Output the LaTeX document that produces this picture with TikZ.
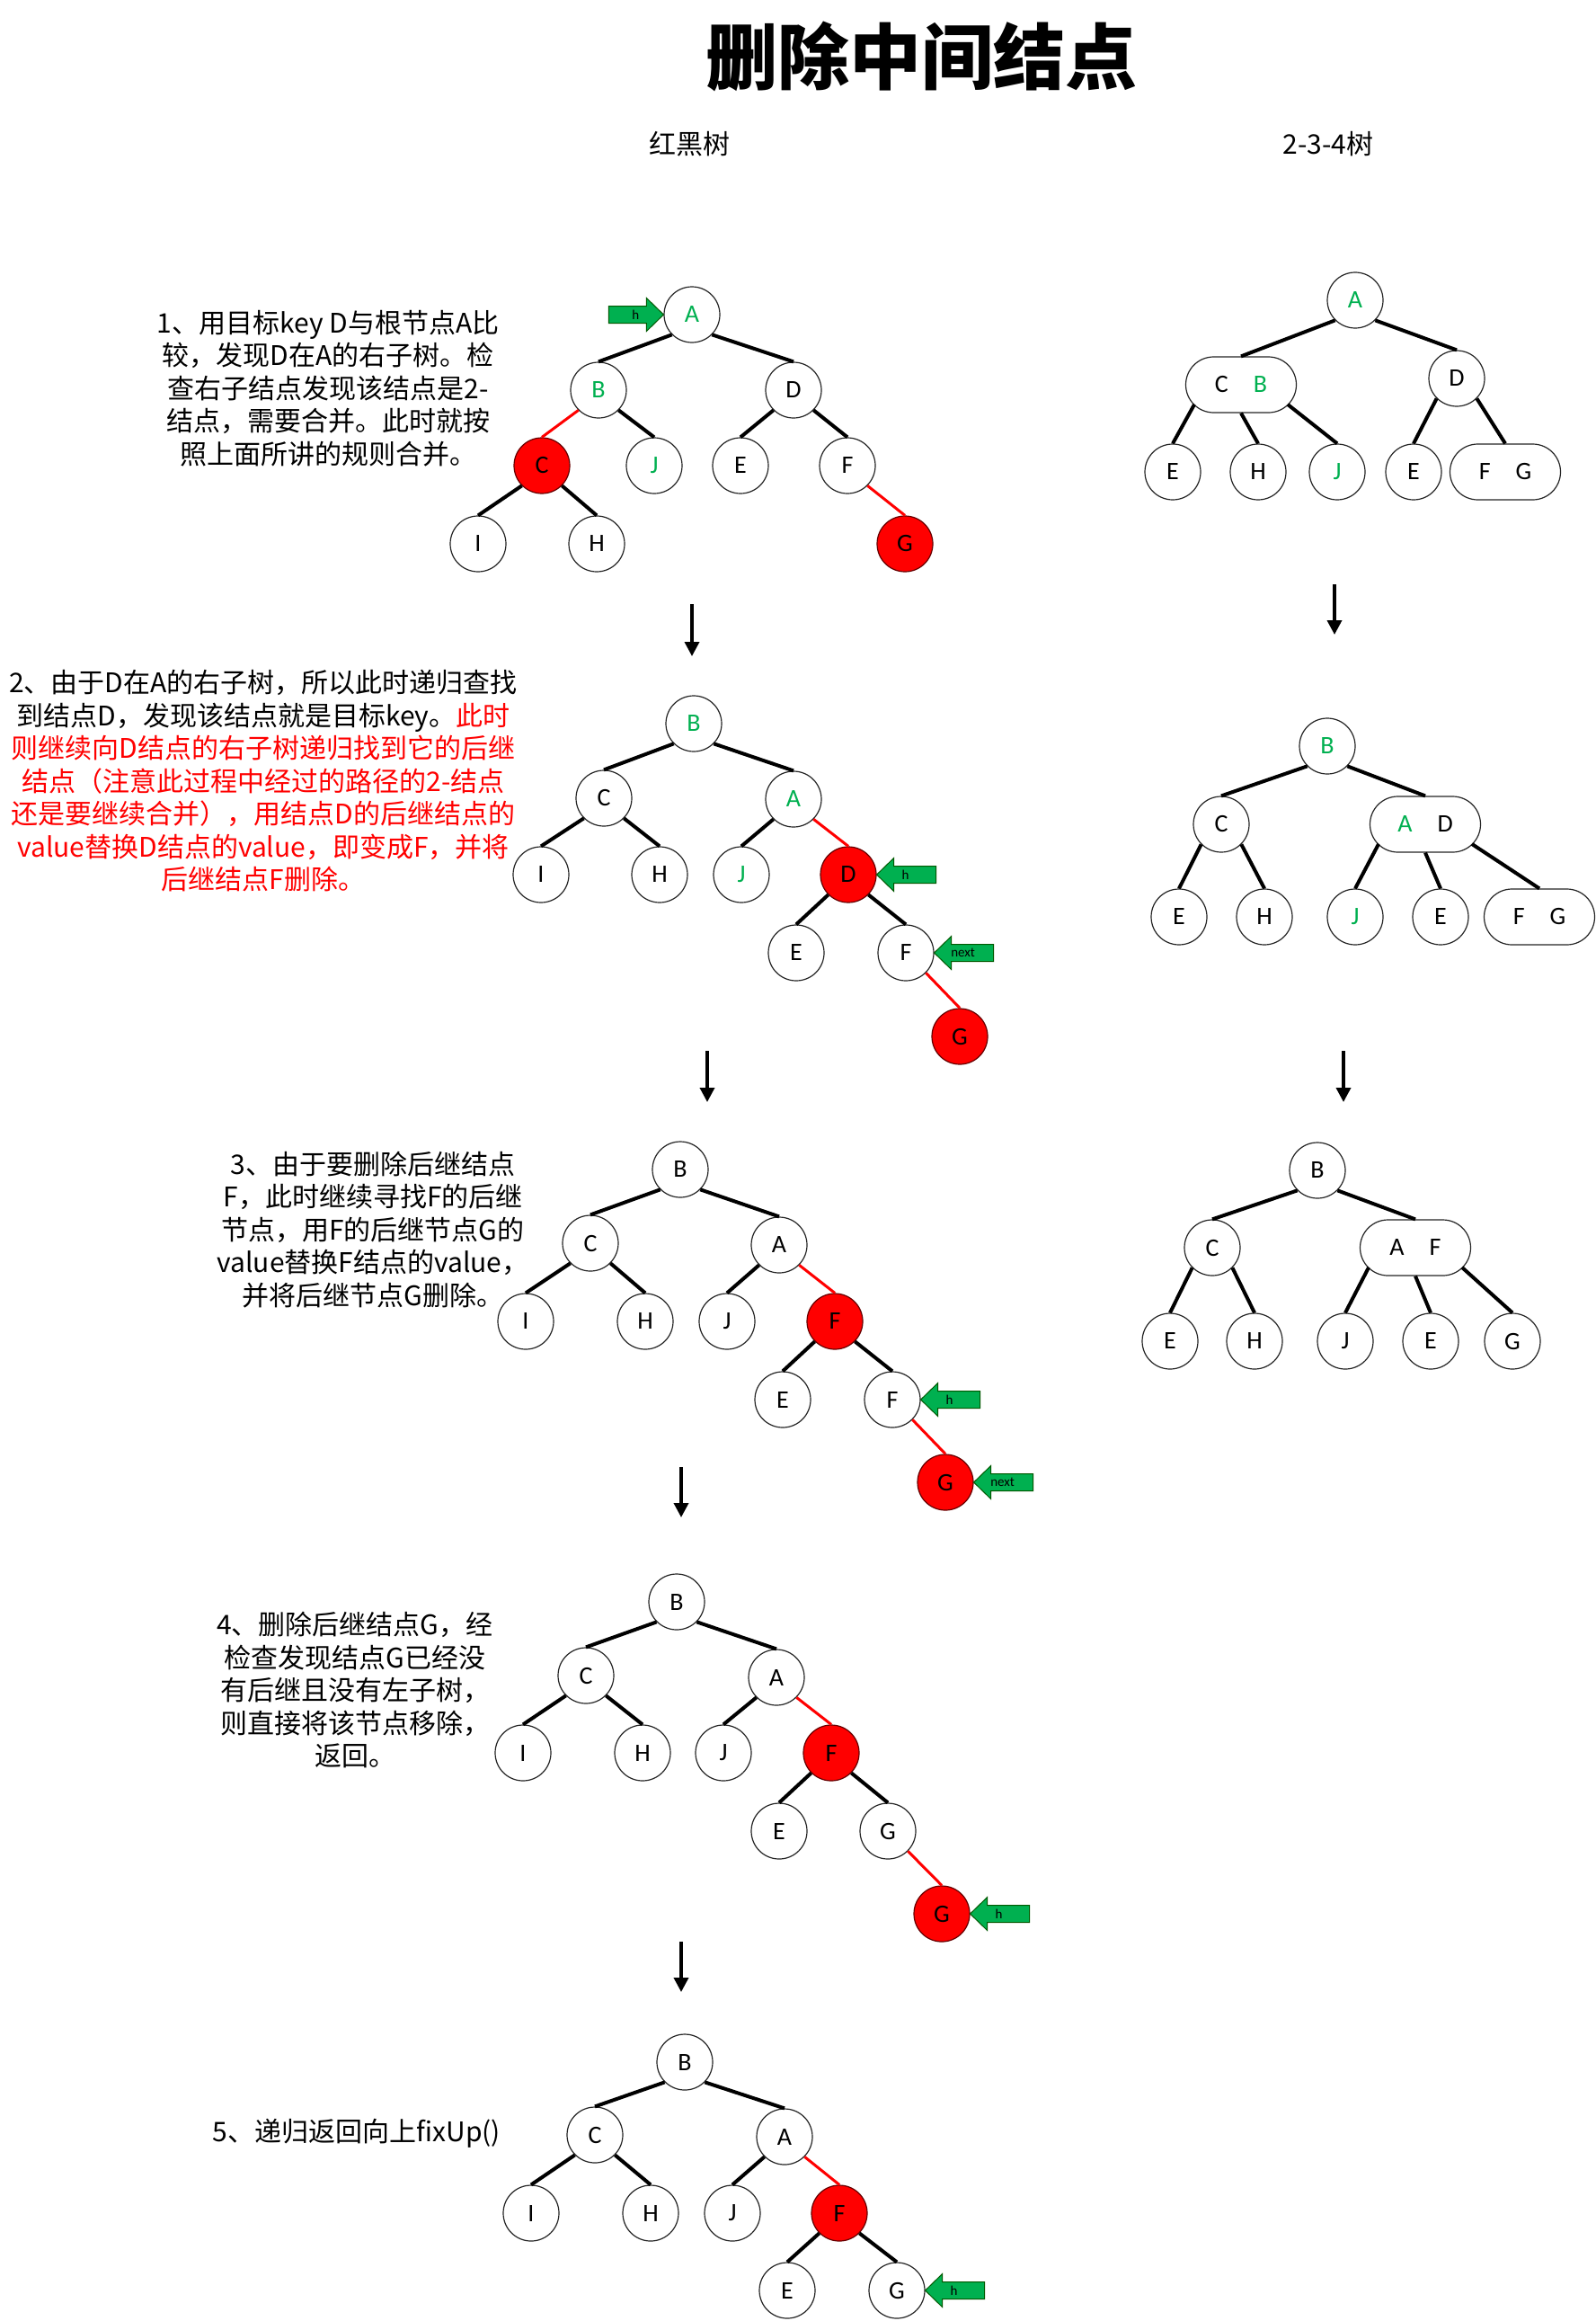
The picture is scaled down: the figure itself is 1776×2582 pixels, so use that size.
\documentclass[tikz,border=0pt]{standalone}
\usepackage{fontspec}
\setmainfont{Carlito}
\newfontfamily\cjk{Noto Sans CJK SC}
\usetikzlibrary{arrows.meta,calc}
\definecolor{grn}{HTML}{00B050}
\definecolor{rd}{HTML}{FF0000}
\tikzset{
  pics/harrowL/.style={code={
    \filldraw[fill=grn,draw=black!65!green,line width=1pt] (0,0) -- (19,-18.5) -- (19,-9.5) -- (66,-9.5) -- (66,9.5) -- (19,9.5) -- (19,18.5) -- cycle;
    \node[font=\fontsize{15}{15}\selectfont,inner sep=0pt] (-t) at (32,0) {#1};
  }},
  pics/harrowR/.style={code={
    \filldraw[fill=grn,draw=black!65!green,line width=1pt] (0,0) -- (-19,-18.5) -- (-19,-9.5) -- (-61,-9.5) -- (-61,9.5) -- (-19,9.5) -- (-19,18.5) -- cycle;
    \node[font=\fontsize{15}{15}\selectfont,inner sep=0pt] (-t) at (-31,0) {#1};
  }}
}
\begin{document}
\begin{tikzpicture}[x=1pt,y=-1pt,
  rb/.style={circle,draw=black!85,line width=1.2pt,minimum size=62pt,inner sep=0pt,font=\fontsize{28}{28}\selectfont,fill=white},
  rbred/.style={rb,fill=rd,draw=black!60!red},
  pill/.style={rectangle,rounded corners=31pt,draw=black!85,line width=1.2pt,minimum height=62pt,minimum width=123pt,inner sep=0pt,font=\fontsize{28}{28}\selectfont},
  gt/.style={text=grn},
  bedge/.style={line width=4pt,black},
  redge/.style={line width=3pt,rd},
  desc/.style={font=\cjk\fontsize{30}{36.5}\selectfont,align=center,inner sep=0pt},
  downarrow/.style={line width=3.5pt,-{Triangle[width=16pt,length=16pt]}}
]
\useasboundingbox (0,0) rectangle (1776,2582);
\fill[white] (0,0) rectangle (1776,2582);

% titles
\node[font=\cjk\bfseries\fontsize{80}{80}\selectfont] (title) at (1025,63) {删除中间结点};
\node[font=\cjk\fontsize{30}{30}\selectfont] (hrb) at (767,160) {红黑树};
\node[font=\cjk\fontsize{30}{30}\selectfont] (h234) at (1478,160) {2-3-4树};

% ---------- step 1 RB ----------
\node[rb,gt] (s1A) at (770,350) {A};
\node[rb,gt] (s1B) at (666,434) {B};
\node[rb] (s1D) at (883,434) {D};
\node[rbred] (s1C) at (603,518) {C};
\node[rb,gt] (s1J) at (728,518) {J};
\node[rb] (s1E) at (824,518) {E};
\node[rb] (s1F) at (943,518) {F};
\node[rb] (s1I) at (532,605) {I};
\node[rb] (s1H) at (664,605) {H};
\node[rbred] (s1G) at (1007,605) {G};
\draw[bedge] (s1A.south west) -- (s1B.north);
\draw[bedge] (s1A.south east) -- (s1D.north);
\draw[redge] (s1B.south west) -- (s1C.north);
\draw[bedge] (s1B.south east) -- (s1J.north);
\draw[bedge] (s1D.south west) -- (s1E.north);
\draw[bedge] (s1D.south east) -- (s1F.north);
\draw[bedge] (s1C.south west) -- (s1I.north);
\draw[bedge] (s1C.south east) -- (s1H.north);
\draw[redge] (s1F.south east) -- (s1G.north);
\pic (ar1) at (s1A.west) {harrowR=h};

\node[desc] (t1) at (365,432) {1、用目标key D与根节点A比\\较，发现D在A的右子树。检\\查右子结点发现该结点是2-\\结点，需要合并。此时就按\\照上面所讲的规则合并。};

% ---------- step 1 234 ----------
\node[rb,gt] (r1A) at (1508,334) {A};
\node[pill] (r1CB) at (1381,428) {C\hspace{28pt}\textcolor{grn}{B}};
\node[rb] (r1D) at (1621,421) {D};
\node[rb] (r1E) at (1305,525) {E};
\node[rb] (r1H) at (1400,525) {H};
\node[rb,gt] (r1J) at (1488,525) {J};
\node[rb] (r1E2) at (1573,525) {E};
\node[pill] (r1FG) at (1675,525) {F\hspace{28pt}G};
\coordinate (r1CBl) at ([xshift=-52pt,yshift=-22pt]r1CB.center);
\coordinate (r1CBr) at ([xshift=52pt,yshift=-22pt]r1CB.center);
\draw[bedge] (r1A.south west) -- (r1CB.north);
\draw[bedge] (r1A.south east) -- (r1D.north);
\draw[bedge] (r1CBl) -- (r1E.north);
\draw[bedge] (r1CB.south) -- (r1H.north);
\draw[bedge] (r1CBr) -- (r1J.north);
\draw[bedge] (r1D.south west) -- (r1E2.north);
\draw[bedge] (r1D.south east) -- (r1FG.north);

% down arrows
\coordinate (d1a) at (770,672); \coordinate (d1b) at (770,730);
\draw[downarrow] (d1a) -- (d1b);
\coordinate (e1a) at (1485,650); \coordinate (e1b) at (1485,706);
\draw[downarrow] (e1a) -- (e1b);

% ---------- step 2 RB ----------
\node[rb,gt] (s2B) at (772,805) {B};
\node[rb] (s2C) at (672,888) {C};
\node[rb,gt] (s2A) at (883,889) {A};
\node[rb] (s2I) at (602,973) {I};
\node[rb] (s2H) at (734,973) {H};
\node[rb,gt] (s2J) at (825,973) {J};
\node[rbred] (s2D) at (944,973) {D};
\node[rb] (s2E) at (886,1060) {E};
\node[rb] (s2F) at (1008,1060) {F};
\node[rbred] (s2G) at (1068,1153) {G};
\draw[bedge] (s2B.south west) -- (s2C.north);
\draw[bedge] (s2B.south east) -- (s2A.north);
\draw[bedge] (s2C.south west) -- (s2I.north);
\draw[bedge] (s2C.south east) -- (s2H.north);
\draw[bedge] (s2A.south west) -- (s2J.north);
\draw[redge] (s2A.south east) -- (s2D.north);
\draw[bedge] (s2D.south west) -- (s2E.north);
\draw[bedge] (s2D.south east) -- (s2F.north);
\draw[redge] (s2F.south east) -- (s2G.north);
\pic (ar2) at (s2D.east) {harrowL=h};
\pic (ar3) at (s2F.east) {harrowL=next};

\node[desc] (t2) at (293,869) {2、由于D在A的右子树，所以此时递归查找\\到结点D，发现该结点就是目标key。\textcolor{rd}{此时}\\\textcolor{rd}{则继续向D结点的右子树递归找到它的后继}\\\textcolor{rd}{结点（注意此过程中经过的路径的2-结点}\\\textcolor{rd}{还是要继续合并），用结点D的后继结点的}\\\textcolor{rd}{value替换D结点的value，即变成F，并将}\\\textcolor{rd}{后继结点F删除。}};

% ---------- step 2 234 ----------
\node[rb,gt] (r2B) at (1477,830) {B};
\node[rb] (r2C) at (1359,917) {C};
\node[pill] (r2AD) at (1586,917) {\textcolor{grn}{A}\hspace{28pt}D};
\node[rb] (r2E) at (1312,1020) {E};
\node[rb] (r2H) at (1407,1020) {H};
\node[rb,gt] (r2J) at (1508,1020) {J};
\node[rb] (r2E2) at (1603,1020) {E};
\node[pill] (r2FG) at (1713,1020) {F\hspace{28pt}G};
\coordinate (r2ADl) at ([xshift=-52pt,yshift=-22pt]r2AD.center);
\coordinate (r2ADr) at ([xshift=52pt,yshift=-22pt]r2AD.center);
\draw[bedge] (r2B.south west) -- (r2C.north);
\draw[bedge] (r2B.south east) -- (r2AD.north);
\draw[bedge] (r2C.south west) -- (r2E.north);
\draw[bedge] (r2C.south east) -- (r2H.north);
\draw[bedge] (r2ADl) -- (r2J.north);
\draw[bedge] (r2AD.south) -- (r2E2.north);
\draw[bedge] (r2ADr) -- (r2FG.north);

\coordinate (d2a) at (787,1169); \coordinate (d2b) at (787,1226);
\draw[downarrow] (d2a) -- (d2b);
\coordinate (e2a) at (1495,1169); \coordinate (e2b) at (1495,1226);
\draw[downarrow] (e2a) -- (e2b);

% ---------- step 3 RB ----------
\node[rb] (s3B) at (757,1301) {B};
\node[rb] (s3C) at (657,1383) {C};
\node[rb] (s3A) at (867,1385) {A};
\node[rb] (s3I) at (585,1470) {I};
\node[rb] (s3H) at (718,1470) {H};
\node[rb] (s3J) at (809,1470) {J};
\node[rbred] (s3F) at (929,1470) {F};
\node[rb] (s3E) at (871,1557) {E};
\node[rb] (s3F2) at (993,1557) {F};
\node[rbred] (s3G) at (1052,1649) {G};
\draw[bedge] (s3B.south west) -- (s3C.north);
\draw[bedge] (s3B.south east) -- (s3A.north);
\draw[bedge] (s3C.south west) -- (s3I.north);
\draw[bedge] (s3C.south east) -- (s3H.north);
\draw[bedge] (s3A.south west) -- (s3J.north);
\draw[redge] (s3A.south east) -- (s3F.north);
\draw[bedge] (s3F.south west) -- (s3E.north);
\draw[bedge] (s3F.south east) -- (s3F2.north);
\draw[redge] (s3F2.south east) -- (s3G.north);
\pic (ar4) at (s3F2.east) {harrowL=h};
\pic (ar5) at (s3G.east) {harrowL=next};

\node[desc] (t3) at (415,1368) {3、由于要删除后继结点\\F，此时继续寻找F的后继\\节点，用F的后继节点G的\\value替换F结点的value，\\并将后继节点G删除。};

% ---------- step 3 234 ----------
\node[rb] (r3B) at (1466,1302) {B};
\node[rb] (r3C) at (1349,1388) {C};
\node[pill] (r3AF) at (1575,1388) {A\hspace{28pt}F};
\node[rb] (r3E) at (1302,1492) {E};
\node[rb] (r3H) at (1396,1492) {H};
\node[rb] (r3J) at (1497,1492) {J};
\node[rb] (r3E2) at (1592,1492) {E};
\node[rb] (r3G) at (1683,1492) {G};
\coordinate (r3AFl) at ([xshift=-52pt,yshift=-22pt]r3AF.center);
\coordinate (r3AFr) at ([xshift=52pt,yshift=-22pt]r3AF.center);
\draw[bedge] (r3B.south west) -- (r3C.north);
\draw[bedge] (r3B.south east) -- (r3AF.north);
\draw[bedge] (r3C.south west) -- (r3E.north);
\draw[bedge] (r3C.south east) -- (r3H.north);
\draw[bedge] (r3AFl) -- (r3J.north);
\draw[bedge] (r3AF.south) -- (r3E2.north);
\draw[bedge] (r3AFr) -- (r3G.north);

\coordinate (d3a) at (758,1632); \coordinate (d3b) at (758,1688);
\draw[downarrow] (d3a) -- (d3b);

% ---------- step 4 RB ----------
\node[rb] (s4B) at (753,1782) {B};
\node[rb] (s4C) at (652,1864) {C};
\node[rb] (s4A) at (864,1866) {A};
\node[rb] (s4I) at (582,1950) {I};
\node[rb] (s4H) at (715,1950) {H};
\node[rb] (s4J) at (805,1950) {J};
\node[rbred] (s4F) at (925,1950) {F};
\node[rb] (s4E) at (867,2037) {E};
\node[rb] (s4G) at (988,2037) {G};
\node[rbred] (s4G2) at (1048,2129) {G};
\draw[bedge] (s4B.south west) -- (s4C.north);
\draw[bedge] (s4B.south east) -- (s4A.north);
\draw[bedge] (s4C.south west) -- (s4I.north);
\draw[bedge] (s4C.south east) -- (s4H.north);
\draw[bedge] (s4A.south west) -- (s4J.north);
\draw[redge] (s4A.south east) -- (s4F.north);
\draw[bedge] (s4F.south west) -- (s4E.north);
\draw[bedge] (s4F.south east) -- (s4G.north);
\draw[redge] (s4G.south east) -- (s4G2.north);
\pic (ar6) at (s4G2.east) {harrowL=h};

\node[desc] (t4) at (395,1880) {4、删除后继结点G，经\\检查发现结点G已经没\\有后继且没有左子树，\\则直接将该节点移除，\\返回。};

\coordinate (d4a) at (758,2160); \coordinate (d4b) at (758,2216);
\draw[downarrow] (d4a) -- (d4b);

% ---------- step 5 RB ----------
\node[rb] (s5B) at (762,2294) {B};
\node[rb] (s5C) at (662,2375) {C};
\node[rb] (s5A) at (873,2377) {A};
\node[rb] (s5I) at (591,2462) {I};
\node[rb] (s5H) at (724,2462) {H};
\node[rb] (s5J) at (815,2462) {J};
\node[rbred] (s5F) at (934,2462) {F};
\node[rb] (s5E) at (876,2548) {E};
\node[rb] (s5G) at (998,2548) {G};
\draw[bedge] (s5B.south west) -- (s5C.north);
\draw[bedge] (s5B.south east) -- (s5A.north);
\draw[bedge] (s5C.south west) -- (s5I.north);
\draw[bedge] (s5C.south east) -- (s5H.north);
\draw[bedge] (s5A.south west) -- (s5J.north);
\draw[redge] (s5A.south east) -- (s5F.north);
\draw[bedge] (s5F.south west) -- (s5E.north);
\draw[bedge] (s5F.south east) -- (s5G.north);
\pic (ar7) at (s5G.east) {harrowL=h};

\node[desc] (t5) at (397,2373) {5、递归返回向上fixUp()};
\end{tikzpicture}
\end{document}
